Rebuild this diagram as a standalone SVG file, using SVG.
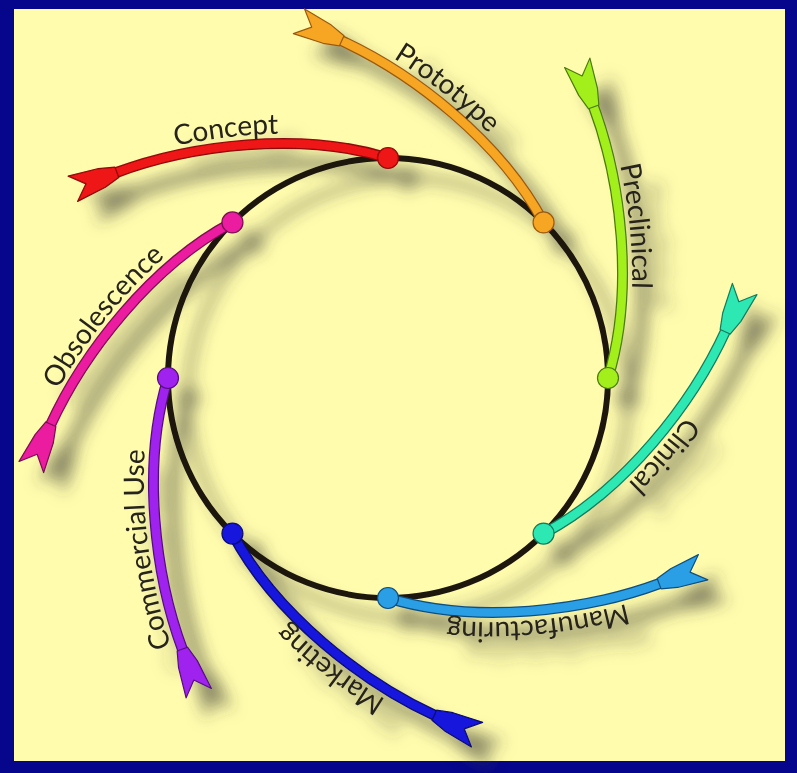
<svg xmlns="http://www.w3.org/2000/svg" xmlns:xlink="http://www.w3.org/1999/xlink" width="797" height="773" viewBox="0 0 797 773">
<defs>
<style>
.ring{fill:none;stroke:#1c1610;stroke-width:6}
.arm-o{fill:none;stroke-width:11;stroke-linecap:round}
.arm{fill:none;stroke-width:8.5;stroke-linecap:round}
.tail{stroke-width:1.2;stroke-linejoin:round}
.dot{stroke-width:1.2}
.lbl{font-family:Lato,"Open Sans","Liberation Sans",sans-serif;font-size:28px;fill:#26221a;text-anchor:middle}
</style>
<path id="arm" d="M388,158 C300,131 190,145 115,173"/>
<path id="tail" d="M-2,-5.5 L14,-10 L45,-13.5 L31,0 L45,13.5 L14,10 L-2,5.5 Z"/>
<path id="tp" d="M112,164 C189,136 301,121 391,148"/>
<filter id="sh" filterUnits="userSpaceOnUse" x="0" y="0" width="797" height="773">
<feGaussianBlur in="SourceAlpha" stdDeviation="8"/>
<feOffset dx="20" dy="20" result="b"/>
<feFlood flood-color="#3a3a30" flood-opacity="0.6"/>
<feComposite in2="b" operator="in"/>
<feMerge><feMergeNode/><feMergeNode in="SourceGraphic"/></feMerge>
</filter>
</defs>
<rect x="0" y="0" width="797" height="773" fill="#06068c"/>
<rect x="14" y="9" width="771" height="752" fill="#fffcae"/>
<g filter="url(#sh)">
<g id="connectors">
<circle class="ring" cx="388" cy="378" r="220"/>
</g>
<g id="concept" transform="rotate(0 388 378)">
<use href="#arm" class="arm-o" stroke="#8a0a0a"/>
<use href="#arm" class="arm" stroke="#ee1313"/>
<use href="#tail" class="tail" transform="translate(115,173) rotate(159.5)" fill="#ee1313" stroke="#8a0a0a"/>
<circle class="dot" cx="388" cy="158" r="10.5" fill="#ee1313" stroke="#8a0a0a"/>
<text class="lbl" font-size="30"><textPath href="#tp" startOffset="118">Concept</textPath></text>
</g>
<g id="prototype" transform="rotate(45 388 378)">
<use href="#arm" class="arm-o" stroke="#9a5a10"/>
<use href="#arm" class="arm" stroke="#f6a623"/>
<use href="#tail" class="tail" transform="translate(115,173) rotate(159.5)" fill="#f6a623" stroke="#9a5a10"/>
<circle class="dot" cx="388" cy="158" r="10.5" fill="#f6a623" stroke="#9a5a10"/>
<text class="lbl" font-size="29.5"><textPath href="#tp" startOffset="117">Prototype</textPath></text>
</g>
<g id="preclinical" transform="rotate(90 388 378)">
<use href="#arm" class="arm-o" stroke="#4c7a10"/>
<use href="#arm" class="arm" stroke="#a3ef1f"/>
<use href="#tail" class="tail" transform="translate(115,173) rotate(159.5)" fill="#a3ef1f" stroke="#4c7a10"/>
<circle class="dot" cx="388" cy="158" r="10.5" fill="#a3ef1f" stroke="#4c7a10"/>
<text class="lbl" font-size="29"><textPath href="#tp" startOffset="128">Preclinical</textPath></text>
</g>
<g id="clinical" transform="rotate(135 388 378)">
<use href="#arm" class="arm-o" stroke="#137a5c"/>
<use href="#arm" class="arm" stroke="#2ee8b4"/>
<use href="#tail" class="tail" transform="translate(115,173) rotate(159.5)" fill="#2ee8b4" stroke="#137a5c"/>
<circle class="dot" cx="388" cy="158" r="10.5" fill="#2ee8b4" stroke="#137a5c"/>
<text class="lbl" font-size="28"><textPath href="#tp" startOffset="140">Clinical</textPath></text>
</g>
<g id="manufacturing" transform="rotate(180 388 378)">
<use href="#arm" class="arm-o" stroke="#0f4f80"/>
<use href="#arm" class="arm" stroke="#2a9fe6"/>
<use href="#tail" class="tail" transform="translate(115,173) rotate(159.5)" fill="#2a9fe6" stroke="#0f4f80"/>
<circle class="dot" cx="388" cy="158" r="10.5" fill="#2a9fe6" stroke="#0f4f80"/>
<text class="lbl" font-size="27"><textPath href="#tp" startOffset="130">Manufacturing</textPath></text>
</g>
<g id="marketing" transform="rotate(225 388 378)">
<use href="#arm" class="arm-o" stroke="#080870"/>
<use href="#arm" class="arm" stroke="#1515dd"/>
<use href="#tail" class="tail" transform="translate(115,173) rotate(159.5)" fill="#1515dd" stroke="#080870"/>
<circle class="dot" cx="388" cy="158" r="10.5" fill="#1515dd" stroke="#080870"/>
<text class="lbl" font-size="27.5"><textPath href="#tp" startOffset="115">Marketing</textPath></text>
</g>
<g id="commercial-use" transform="rotate(270 388 378)">
<use href="#arm" class="arm-o" stroke="#55107e"/>
<use href="#arm" class="arm" stroke="#a020ee"/>
<use href="#tail" class="tail" transform="translate(115,173) rotate(159.5)" fill="#a020ee" stroke="#55107e"/>
<circle class="dot" cx="388" cy="158" r="10.5" fill="#a020ee" stroke="#55107e"/>
<text class="lbl" font-size="32"><textPath href="#tp" startOffset="108">Commercial Use</textPath></text>
</g>
<g id="obsolescence" transform="rotate(315 388 378)">
<use href="#arm" class="arm-o" stroke="#7a0c52"/>
<use href="#arm" class="arm" stroke="#ec1aa0"/>
<use href="#tail" class="tail" transform="translate(115,173) rotate(159.5)" fill="#ec1aa0" stroke="#7a0c52"/>
<circle class="dot" cx="388" cy="158" r="10.5" fill="#ec1aa0" stroke="#7a0c52"/>
<text class="lbl" font-size="30"><textPath href="#tp" startOffset="122">Obsolescence</textPath></text>
</g>
</g>
</svg>
